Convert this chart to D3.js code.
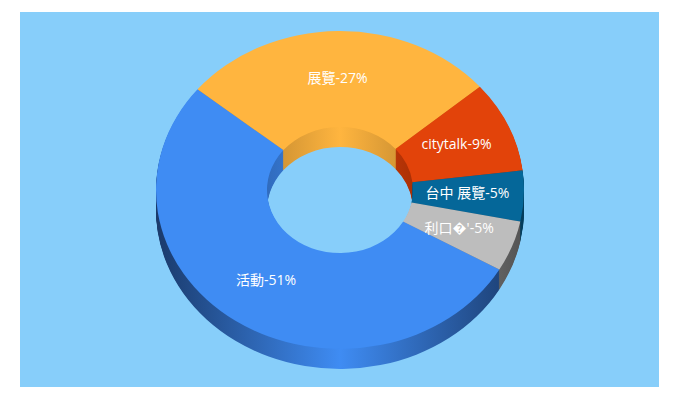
<!DOCTYPE html>
<html>
<head>
<meta charset="utf-8">
<script src="https://d3js.org/d3.v7.min.js"></script>
<style>
html, body { margin: 0; padding: 0; background: #fff; }
svg { display: block; }
</style>
</head>
<body>
<script>
// chart values
var names = ["活動", "展覽", "citytalk", "台中 展覽", "利口\uFFFD'"];
var shares = [51, 27, 9, 5, 5];
var colors = ["#3f8cf3", "#ffb53f", "#e2430a", "#056799", "#bdbdbd"];
var wallEdge = ["#1a3a6b", "#c48a30", "#a52e05", "#033d5c", "#525252"];

// geometry
var W = 680, H = 400;
var cx = 340, cy = 190;
var outerR = 184, innerR = 73;
var tilt = 0.864;
var depth = 20;

var canvas = d3.select("body").append("svg")
	.attr("width", W)
	.attr("height", H);

canvas.append("rect")
	.attr("x", 20)
	.attr("y", 12)
	.attr("width", 639)
	.attr("height", 375)
	.attr("fill", "#87cefa");

var pie = d3.pie().sort(null).startAngle(Math.PI * 2 / 3).endAngle(Math.PI * 2 / 3 + Math.PI * 2);
var arc = d3.arc().innerRadius(innerR).outerRadius(outerR);
var slices = pie(shares);

//WALL GRADIENTS - bright in the middle, dark to the sides
var defs = canvas.append("defs");
// yellow and red only show on the inside of the hole so they fade over a shorter span
var wallSpan = [outerR, innerR * 1.1, innerR * 1.1, outerR, outerR];
slices.forEach(function(d, i) {
	var g = defs.append("linearGradient")
		.attr("id", "wall" + i)
		.attr("gradientUnits", "userSpaceOnUse")
		.attr("x1", -wallSpan[i])
		.attr("x2", wallSpan[i])
		.attr("y1", 0)
		.attr("y2", 0);
	g.append("stop").attr("offset", "0%").attr("stop-color", wallEdge[i]);
	g.append("stop").attr("offset", "50%").attr("stop-color", colors[i]);
	g.append("stop").attr("offset", "100%").attr("stop-color", wallEdge[i]);
});

//DRAWING THE SIDE, one flat copy of the ring per pixel of depth
d3.range(depth, 0, -1).forEach(function(dy) {
	canvas.append("g")
		.attr("transform", "translate(" + cx + "," + (cy + dy) + ") scale(1," + tilt + ")")
		.selectAll("path")
		.data(slices)
		.enter().append("path")
		.attr("d", arc)
		.attr("fill", function(d, i) { return "url(#wall" + i + ")"; });
});

//DRAWING THE TOP
canvas.append("g")
	.attr("transform", "translate(" + cx + "," + cy + ") scale(1," + tilt + ")")
	.selectAll("path")
	.data(slices)
	.enter().append("path")
	.attr("d", arc)
	.attr("fill", function(d, i) { return colors[i]; });

//LABELS
canvas.append("g")
	.selectAll("text")
	.data(slices)
	.enter().append("text")
	.attr("x", function(d) { return cx + arc.centroid(d)[0] - 1; })
	.attr("y", function(d) { return cy + arc.centroid(d)[1] * tilt + 4; })
	.attr("text-anchor", "middle")
	.attr("fill", "#fff")
	.style("font-family", "'Open Sans', 'Noto Sans CJK TC', sans-serif")
	.style("font-size", "14px")
	.text(function(d, i) { return names[i] + "-" + shares[i] + "%"; });
</script>
</body>
</html>
